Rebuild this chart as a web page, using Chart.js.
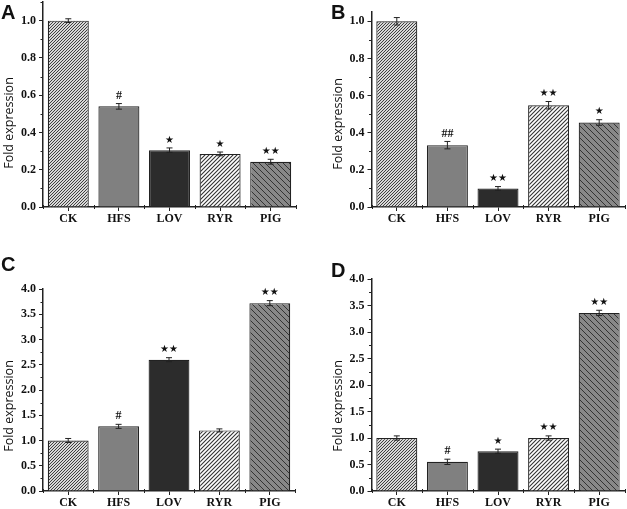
<!DOCTYPE html>
<html>
<head>
<meta charset="utf-8">
<script src="https://cdn.jsdelivr.net/npm/chart.js@4"></script>
<style>
body { margin: 0; background: #fff; width: 627px; height: 509px; overflow: hidden; position: relative; }
canvas { position: absolute; }
.letter { position: absolute; font: bold 20px "Liberation Sans", Arial, sans-serif; color: #111; line-height: 1; }
.ytitle { position: absolute; font: 12.5px "Open Sans", sans-serif; color: #111; white-space: nowrap; transform: translate(-50%, -50%) rotate(-90deg); }
</style>
</head>
<body>
<canvas id="chartA" width="310" height="250" style="left:0;top:0"></canvas>
<canvas id="chartB" width="317" height="250" style="left:310px;top:0"></canvas>
<canvas id="chartC" width="310" height="259" style="left:0;top:250px"></canvas>
<canvas id="chartD" width="317" height="259" style="left:310px;top:250px"></canvas>

<div class="letter" style="left:1px;top:2px">A</div>
<div class="letter" style="left:331px;top:2px">B</div>
<div class="letter" style="left:1px;top:254px">C</div>
<div class="letter" style="left:331px;top:260px">D</div>
<div class="ytitle" style="left:8px;top:123px">Fold expression</div>
<div class="ytitle" style="left:337px;top:124px">Fold expression</div>
<div class="ytitle" style="left:8px;top:406px">Fold expression</div>
<div class="ytitle" style="left:337px;top:406px">Fold expression</div>

<script>
const groups = ["CK", "HFS", "LOV", "RYR", "PIG"];

const foldA = [1.0, 0.54, 0.305, 0.285, 0.243];
const errA = [0.01, 0.015, 0.012, 0.01, 0.013];
const marksA = ["", "#", "*", "*", "**"];

const foldB = [1.0, 0.333, 0.10, 0.548, 0.455];
const errB = [0.02, 0.02, 0.01, 0.02, 0.015];
const marksB = ["", "##", "**", "**", "*"];

const foldC = [1.0, 1.28, 2.6, 1.2, 3.72];
const errC = [0.04, 0.04, 0.04, 0.03, 0.05];
const marksC = ["", "#", "**", "", "**"];

const foldD = [1.0, 0.55, 0.75, 1.0, 3.36];
const errD = [0.04, 0.05, 0.04, 0.04, 0.05];
const marksD = ["", "#", "*", "**", "**"];

function hatch(bg, fg, size, dir, lw) {
	const c = document.createElement("canvas");
	c.width = c.height = size;
	const g = c.getContext("2d");
	g.fillStyle = bg;
	g.fillRect(0, 0, size, size);
	g.strokeStyle = fg;
	g.lineWidth = lw;
	g.beginPath();
	if (dir > 0) {
		g.moveTo(-1, size + 1); g.lineTo(size + 1, -1);
		g.moveTo(-1, 1); g.lineTo(1, -1);
		g.moveTo(size - 1, size + 1); g.lineTo(size + 1, size - 1);
	} else {
		g.moveTo(-1, -1); g.lineTo(size + 1, size + 1);
		g.moveTo(size - 1, -1); g.lineTo(size + 1, 1);
		g.moveTo(-1, size - 1); g.lineTo(1, size + 1);
	}
	g.stroke();
	return g.createPattern(c, "repeat");
}

const fills = [
	hatch("#d8d8d8", "#404040", 3, 1, 1),
	"#808080",
	"#2c2c2c",
	hatch("#ffffff", "#333333", 4, 1, 1.1),
	hatch("#888888", "#333333", 6, -1, 1),
];

// error bars, significance marks and minor ticks
const extras = {
	id: "extras",
	afterDatasetsDraw(chart) {
		const { ctx, scales: { x, y } } = chart;
		const ds = chart.data.datasets[0];
		const meta = chart.getDatasetMeta(0);
		ctx.save();
		ctx.strokeStyle = "#222";
		ctx.lineWidth = 1;
		meta.data.forEach((bar, i) => {
			const v = ds.data[i], e = ds.errors[i];
			const yt = y.getPixelForValue(v + e), yb = y.getPixelForValue(v - e);
			ctx.beginPath();
			ctx.moveTo(bar.x, yt); ctx.lineTo(bar.x, yb);
			ctx.moveTo(bar.x - 3, yt); ctx.lineTo(bar.x + 3, yt);
			ctx.moveTo(bar.x - 3, yb); ctx.lineTo(bar.x + 3, yb);
			ctx.stroke();

			const mark = ds.marks[i];
			ctx.fillStyle = "#111";
			ctx.textAlign = "center";
			ctx.textBaseline = "bottom";
			if (mark.startsWith("#")) {
				ctx.font = 'bold 12px "Liberation Serif"';
				ctx.fillText(mark, bar.x, yt - 2);
			} else if (mark) {
				ctx.font = '10px "DejaVu Sans"';
				const n = mark.length;
				for (let k = 0; k < n; k++) {
					ctx.fillText("\u2605", bar.x + (k - (n - 1) / 2) * 9, yt - 3);
				}
			}
		});

		// minor ticks
		ctx.beginPath();
		const minor = chart.options.minorStep;
		for (let v = minor; v < y.max + 1e-9; v += 2 * minor) {
			const py = Math.round(y.getPixelForValue(v)) + 0.5;
			ctx.moveTo(x.left - 2.5, py); ctx.lineTo(x.left, py);
		}
		for (let i = 0; i <= groups.length; i++) {
			const px = Math.round(x.getPixelForValue(i - 0.5)) + 0.5;
			ctx.moveTo(px, y.bottom - 2); ctx.lineTo(px, y.bottom + 2);
		}
		ctx.stroke();
		ctx.restore();
	},
};

const tickFont = { family: '"Liberation Serif", "Times New Roman", serif', weight: "bold", size: 12 };

function drawPanel(id, fold, errs, marks, layout) {
	new Chart(document.getElementById(id), {
		type: "bar",
		data: {
			labels: groups,
			datasets: [{
				data: fold,
				errors: errs,
				marks: marks,
				backgroundColor: fills,
				borderColor: "#222",
				borderWidth: 1.2,
				barPercentage: 0.81,
				categoryPercentage: 1,
			}],
		},
		options: {
			responsive: false,
			animation: false,
			devicePixelRatio: 1,
			minorStep: layout.step / 2,
			layout: { padding: { left: 0, right: layout.right, top: layout.top, bottom: 0 } },
			plugins: { legend: { display: false }, tooltip: { enabled: false } },
			scales: {
				x: {
					grid: { drawOnChartArea: false, offset: false, tickLength: 4, tickColor: "#222", tickWidth: 1 },
					border: { color: "#222", width: 1.5 },
					ticks: { font: tickFont, color: "#111", padding: 1 },
					afterFit: (s) => {
						s.height = layout.xHeight;
						s.paddingLeft = 0;
						s.paddingRight = 0;
					},
				},
				y: {
					min: 0,
					max: layout.max,
					grid: { drawOnChartArea: false, tickLength: 4, tickColor: "#222", tickWidth: 1 },
					border: { color: "#222", width: 1.5 },
					ticks: {
						stepSize: layout.step,
						includeBounds: false,
						font: tickFont,
						color: "#111",
						padding: 3,
						callback: (v) => v.toFixed(1),
					},
					afterFit: (s) => {
						s.width = layout.yWidth;
						s.paddingTop = 0;
						s.paddingBottom = 0;
					},
				},
			},
		},
		plugins: [extras],
	});
}

drawPanel("chartA", foldA, errA, marksA, { max: 1.1, step: 0.2, yWidth: 43, right: 14, top: 2, xHeight: 43 });
drawPanel("chartB", foldB, errB, marksB, { max: 1.05, step: 0.2, yWidth: 61.5, right: 2.5, top: 12, xHeight: 43 });
drawPanel("chartC", foldC, errC, marksC, { max: 4.0, step: 0.5, yWidth: 43, right: 15, top: 39, xHeight: 18 });
drawPanel("chartD", foldD, errD, marksD, { max: 4.0, step: 0.5, yWidth: 61.5, right: 2.5, top: 29, xHeight: 18 });
</script>
</body>
</html>
